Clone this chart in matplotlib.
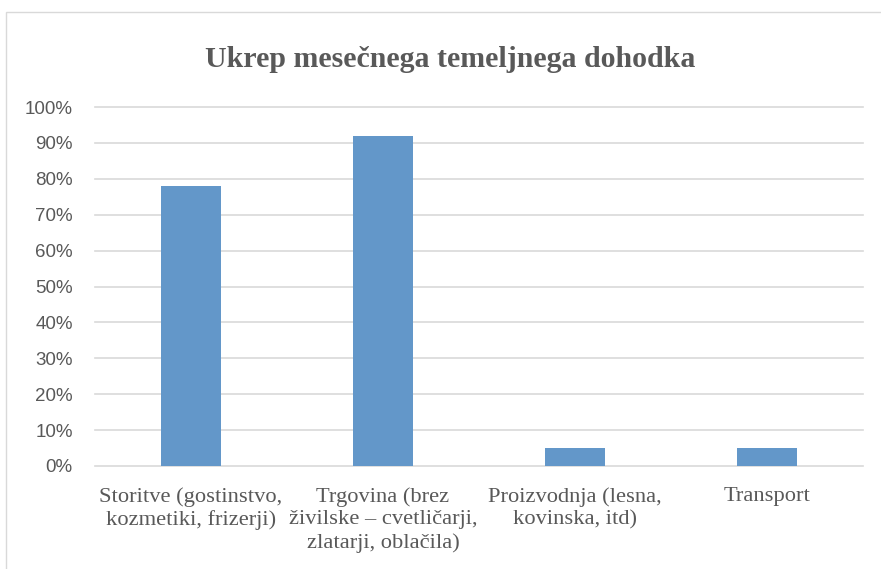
import matplotlib
matplotlib.use("Agg")
import matplotlib.pyplot as plt
from matplotlib.patches import Rectangle
from matplotlib.ticker import PercentFormatter

categories = [
    "Storitve (gostinstvo,\nkozmetiki, frizerji)",
    "Trgovina (brez\nživilske – cvetličarji,\nzlatarji, oblačila)",
    "Proizvodnja (lesna,\nkovinska, itd)",
    "Transport",
]
values = [0.78, 0.92, 0.05, 0.05]
yticks = [0, 0.1, 0.2, 0.3, 0.4, 0.5, 0.6, 0.7, 0.8, 0.9, 1.0]
title = "Ukrep mesečnega temeljnega dohodka"

text_color = "#595959"
bar_color = "#6397c9"
grid_color = "#d9d9d9"

fig = plt.figure(figsize=(8.81, 5.69), dpi=100)
fig.patches.append(Rectangle((6 / 881, -0.01), 1.0, 0.979 + 0.01, transform=fig.transFigure,
                             fill=False, edgecolor=grid_color, linewidth=1.0))

ax = fig.add_axes([95 / 881, 1 - 466 / 569, 768 / 881, (466 - 107) / 569])
x = list(range(len(categories)))
ax.bar(x, values, width=0.317, color=bar_color, zorder=3)
ax.set_xlim(-0.5, len(categories) - 0.5)
ax.set_ylim(0, 1)
ax.set_yticks(yticks)
ax.yaxis.set_major_formatter(PercentFormatter(1.0, decimals=0))
ax.grid(axis="y", color=grid_color, linewidth=1.2, zorder=0)
for gl in ax.get_ygridlines():
    gl.set_clip_on(False)
for s in ax.spines.values():
    s.set_visible(False)
ax.set_xticks(x)
ax.set_xticklabels(categories, fontfamily="Liberation Serif", fontsize=16.2,
                   color=text_color, linespacing=1.27)
ax.tick_params(axis="x", length=0, pad=15)
ax.tick_params(axis="y", length=0, pad=16, labelsize=13.5, labelcolor=text_color)
for lab in ax.get_yticklabels():
    lab.set_fontfamily("Liberation Sans")

fig.text(450 / 881, 1 - 67 / 569, title, ha="center", va="baseline",
         fontfamily="Liberation Serif", fontweight="bold", fontsize=21.5, color=text_color)

fig.savefig("out.png", dpi=100)
